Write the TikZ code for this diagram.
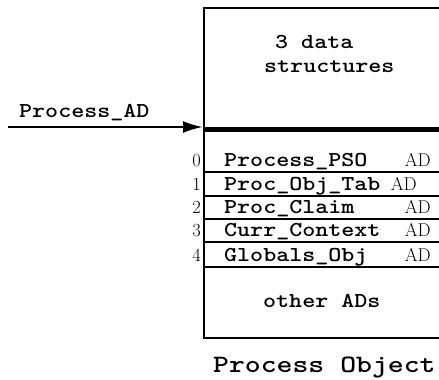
\documentclass[tikz,border=0pt]{standalone}
\usepackage{graphicx}
\usetikzlibrary{arrows.meta}
\newcommand\mtt[2][1.17]{\scalebox{#1}[1]{\ttfamily\bfseries #2}}
\begin{document}
\begin{tikzpicture}[x=1pt,y=-1pt,
  tt/.style={inner sep=0pt, anchor=base west, font=\fontsize{21.2}{25}\selectfont},
  captxt/.style={inner sep=0pt, anchor=base west, font=\fontsize{25}{30}\selectfont},
  ad/.style={inner sep=0pt, anchor=base east, font=\fontsize{18.5}{22}\selectfont},
  idx/.style={inner sep=0pt, anchor=base east, font=\fontsize{18.5}{22}\selectfont},
  frame/.style={line width=2.4pt},
  divider/.style={line width=4.5pt},
  rowline/.style={line width=1.5pt},
  ptr/.style={line width=2.5pt, -{Latex[length=20pt,width=12pt]}}
  ]
\useasboundingbox (0,0) rectangle (439,380);
% frame
\coordinate (tr) at (439,8);
\coordinate (tl) at (204,8);
\coordinate (bl) at (204,338);
\coordinate (br) at (439,338);
\draw[frame] (tr) -- (tl) -- (bl) -- (br);
% divider
\coordinate (dl) at (204,129.5);
\coordinate (dr) at (439,129.5);
\draw[divider] (dl) -- (dr);
% row lines
\foreach \y [count=\i] in {172,196,219,242,267}{
  \coordinate (l\i) at (204,\y);
  \coordinate (r\i) at (439,\y);
  \draw[rowline] (l\i) -- (r\i);
}
% pointer
\coordinate (src) at (8,127);
\coordinate (dst) at (203,127);
\draw[ptr] (src) -- (dst);
\node[tt] (lab) at (19,117) {\mtt{Process\_AD}};
% top text
\node[tt] (t1) at (275,48) {\mtt{3 data}};
\node[tt] (t2) at (264,72) {\mtt{structures}};
% rows
\node[tt] (n0) at (224,166) {\mtt{Process\_PSO}};
\node[tt] (n1) at (224,190) {\mtt{Proc\_Obj\_Tab}};
\node[tt] (n2) at (224,213) {\mtt{Proc\_Claim}};
\node[tt] (n3) at (224,236) {\mtt{Curr\_Context}};
\node[tt] (n4) at (224,261) {\mtt{Globals\_Obj}};
\node[ad] (a0) at (431,166) {AD};
\node[ad] (a1) at (417,190) {AD};
\node[ad] (a2) at (431,213) {AD};
\node[ad] (a3) at (431,236) {AD};
\node[ad] (a4) at (431,261) {AD};
\node[idx] (i0) at (201,166) {0};
\node[idx] (i1) at (201,190) {1};
\node[idx] (i2) at (201,213) {2};
\node[idx] (i3) at (201,236) {3};
\node[idx] (i4) at (201,261) {4};
% bottom
\node[tt] (oth) at (263,307) {\mtt{other ADs}};
\node[captxt] (cpt) at (213,372) {\mtt[1.21]{Process Object}};
\end{tikzpicture}
\end{document}
